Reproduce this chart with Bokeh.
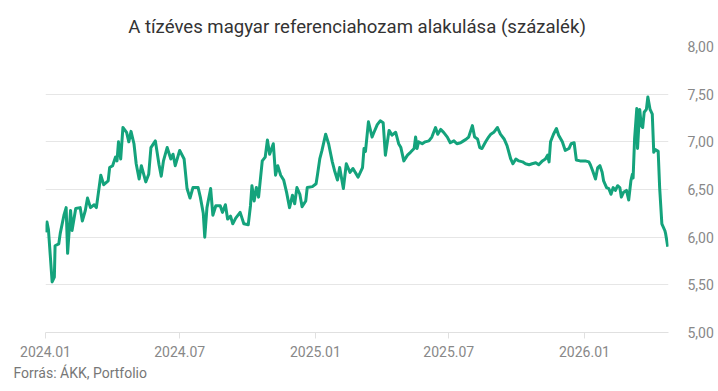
import pandas as pd
from datetime import datetime
from bokeh.plotting import figure
from bokeh.models import (Range1d, FixedTicker, DatetimeTickFormatter,
                          CustomJSTickFormatter, Title)
from bokeh.embed import file_html
from bokeh.resources import INLINE

title_text = "A tízéves magyar referenciahozam alakulása (százalék)"
source_text = "Forrás: ÁKK, Portfolio"

dates = [
    "2024-01-01", "2024-01-03", "2024-01-05", "2024-01-10", "2024-01-13", "2024-01-14",
    "2024-01-19", "2024-01-21", "2024-01-26", "2024-01-29", "2024-01-31", "2024-02-04",
    "2024-02-06", "2024-02-11", "2024-02-17", "2024-02-20", "2024-02-24", "2024-02-27",
    "2024-03-02", "2024-03-07", "2024-03-10", "2024-03-16", "2024-03-20", "2024-03-26",
    "2024-03-28", "2024-04-01", "2024-04-05", "2024-04-07", "2024-04-09", "2024-04-12",
    "2024-04-15", "2024-04-20", "2024-04-23", "2024-04-26", "2024-04-30", "2024-05-03",
    "2024-05-07", "2024-05-10", "2024-05-16", "2024-05-20", "2024-05-23", "2024-05-29",
    "2024-06-03", "2024-06-06", "2024-06-09", "2024-06-14", "2024-06-19", "2024-06-22",
    "2024-06-25", "2024-07-01", "2024-07-07", "2024-07-11", "2024-07-15", "2024-07-19",
    "2024-07-26", "2024-07-29", "2024-08-02", "2024-08-04", "2024-08-07", "2024-08-12",
    "2024-08-15", "2024-08-19", "2024-08-25", "2024-08-28", "2024-09-01", "2024-09-04",
    "2024-09-08", "2024-09-11", "2024-09-15", "2024-09-21", "2024-09-26", "2024-10-02",
    "2024-10-05", "2024-10-07", "2024-10-10", "2024-10-13", "2024-10-16", "2024-10-21",
    "2024-10-25", "2024-10-28", "2024-10-31", "2024-11-05", "2024-11-08", "2024-11-11",
    "2024-11-15", "2024-11-19", "2024-11-23", "2024-11-27", "2024-12-01", "2024-12-04",
    "2024-12-07", "2024-12-11", "2024-12-14", "2024-12-19", "2024-12-21", "2024-12-28",
    "2025-01-02", "2025-01-04", "2025-01-07", "2025-01-10", "2025-01-15", "2025-01-19",
    "2025-01-24", "2025-01-27", "2025-01-31", "2025-02-03", "2025-02-08", "2025-02-12",
    "2025-02-17", "2025-02-21", "2025-02-28", "2025-03-06", "2025-03-08", "2025-03-10",
    "2025-03-14", "2025-03-19", "2025-03-21", "2025-03-26", "2025-03-30", "2025-04-03",
    "2025-04-06", "2025-04-11", "2025-04-15", "2025-04-20", "2025-04-24", "2025-04-27",
    "2025-05-01", "2025-05-06", "2025-05-10", "2025-05-15", "2025-05-17", "2025-05-19",
    "2025-05-21", "2025-05-26", "2025-05-30", "2025-06-04", "2025-06-08", "2025-06-13",
    "2025-06-16", "2025-06-20", "2025-06-24", "2025-06-29", "2025-07-03", "2025-07-08",
    "2025-07-12", "2025-07-17", "2025-07-21", "2025-07-25", "2025-07-28", "2025-08-02",
    "2025-08-05", "2025-08-09", "2025-08-12", "2025-08-15", "2025-08-20", "2025-08-24",
    "2025-08-27", "2025-08-31", "2025-09-05", "2025-09-09", "2025-09-14", "2025-09-18",
    "2025-09-23", "2025-09-26", "2025-09-30", "2025-10-04", "2025-10-09", "2025-10-13",
    "2025-10-18", "2025-10-22", "2025-10-27", "2025-10-31", "2025-11-05", "2025-11-09",
    "2025-11-12", "2025-11-14", "2025-11-16", "2025-11-20", "2025-11-24", "2025-11-27",
    "2025-12-02", "2025-12-06", "2025-12-11", "2025-12-14", "2025-12-18", "2025-12-21",
    "2025-12-26", "2026-01-02", "2026-01-07", "2026-01-09", "2026-01-12", "2026-01-16",
    "2026-01-19", "2026-01-22", "2026-01-25", "2026-01-27", "2026-01-31", "2026-02-03",
    "2026-02-06", "2026-02-09", "2026-02-12", "2026-02-15", "2026-02-18", "2026-02-20",
    "2026-02-23", "2026-02-27", "2026-03-02", "2026-03-05", "2026-03-07", "2026-03-08",
    "2026-03-10", "2026-03-13", "2026-03-14", "2026-03-17", "2026-03-19", "2026-03-21",
    "2026-03-23", "2026-03-26", "2026-03-28", "2026-03-31", "2026-04-03", "2026-04-05",
    "2026-04-07", "2026-04-11", "2026-04-13", "2026-04-16", "2026-04-20", "2026-04-21",
    "2026-04-24",
]

yields = [
    6.05, 6.16, 6.08, 5.53, 5.58, 5.91,
    5.93, 6.04, 6.23, 6.31, 5.83, 6.28,
    6.07, 6.30, 6.31, 6.17, 6.28, 6.41,
    6.31, 6.34, 6.31, 6.65, 6.55, 6.59,
    6.73, 6.75, 6.84, 6.80, 7.00, 6.82,
    7.15, 7.10, 7.00, 7.11, 6.98, 6.77,
    6.61, 6.75, 6.58, 6.66, 6.94, 7.01,
    6.76, 6.64, 6.80, 6.94, 6.82, 6.87,
    6.75, 6.91, 6.82, 6.51, 6.41, 6.52,
    6.52, 6.42, 6.25, 6.00, 6.31, 6.51,
    6.23, 6.33, 6.33, 6.26, 6.34, 6.19,
    6.22, 6.14, 6.20, 6.26, 6.14, 6.13,
    6.33, 6.54, 6.38, 6.52, 6.42, 6.80,
    6.84, 7.02, 6.87, 6.98, 6.65, 6.75,
    6.65, 6.60, 6.47, 6.31, 6.44, 6.35,
    6.52, 6.45, 6.32, 6.38, 6.52, 6.53,
    6.56, 6.66, 6.82, 6.91, 7.08, 6.98,
    6.79, 6.70, 6.60, 6.73, 6.51, 6.77,
    6.68, 6.72, 6.63, 6.73, 6.93, 6.90,
    7.21, 7.05, 7.09, 7.18, 7.22, 7.20,
    6.86, 7.12, 7.07, 7.10, 6.98, 6.94,
    6.80, 6.86, 6.89, 6.93, 7.05, 6.93,
    7.00, 6.98, 7.00, 7.01, 7.05, 7.15,
    7.08, 7.13, 7.10, 7.05, 6.99, 7.01,
    6.98, 6.99, 7.01, 7.03, 7.05, 7.17,
    7.05, 7.03, 6.94, 6.93, 7.00, 7.05,
    7.08, 7.10, 7.15, 7.08, 7.03, 6.96,
    6.82, 6.77, 6.82, 6.80, 6.79, 6.77,
    6.76, 6.77, 6.78, 6.76, 6.80, 6.82,
    6.86, 6.79, 7.00, 7.08, 7.14, 7.07,
    7.00, 6.91, 6.93, 6.98, 6.99, 6.81,
    6.80, 6.80, 6.79, 6.76, 6.70, 6.61,
    6.73, 6.75, 6.68, 6.59, 6.52, 6.51,
    6.45, 6.52, 6.49, 6.54, 6.52, 6.42,
    6.47, 6.49, 6.39, 6.59, 6.66, 6.62,
    7.03, 7.35, 6.93, 7.34, 7.17, 7.15,
    7.31, 7.34, 7.47, 7.34, 7.29, 6.89,
    6.92, 6.90, 6.52, 6.14, 6.07, 6.04,
    5.90,
]

x_tick_dates = ["2024-01-01", "2024-07-01", "2025-01-01", "2025-07-01", "2026-01-01"]
y_ticks = [5.0, 5.5, 6.0, 6.5, 7.0, 7.5, 8.0]

x = pd.to_datetime(dates)

p = figure(width=717, height=390, output_backend="svg", toolbar_location=None,
           x_axis_type="datetime", y_axis_location="right",
           x_range=Range1d(datetime(2024, 1, 1), datetime(2026, 4, 25)),
           y_range=Range1d(5, 8),
           min_border_left=45, min_border_right=49, min_border_top=46, min_border_bottom=58)

p.line(x, yields, line_color="#14a37c", line_width=3, line_join="round")

p.outline_line_color = None
p.background_fill_color = "white"
p.border_fill_color = "white"

# title
p.title.text = title_text
p.title.align = "center"
p.title.text_font = "Roboto"
p.title.text_font_size = "18.6px"
p.title.text_font_style = "normal"
p.title.text_color = "#333333"
p.title.standoff = 18

# x axis
xa = p.xaxis[0]
xa.ticker = FixedTicker(ticks=[pd.Timestamp(d).value / 1e6 for d in x_tick_dates])
xa.formatter = DatetimeTickFormatter(days="%Y.%m", months="%Y.%m", years="%Y.%m")
xa.axis_line_color = "#e0e0e0"
xa.major_tick_line_color = "#e0e0e0"
xa.major_tick_out = 6
xa.major_tick_in = 0
xa.minor_tick_line_color = None
xa.major_label_text_font = "Roboto"
xa.major_label_text_font_size = "14px"
xa.major_label_text_color = "#888888"
xa.major_label_standoff = 7

# y axis (right)
ya = p.yaxis[0]
ya.ticker = FixedTicker(ticks=y_ticks)
ya.formatter = CustomJSTickFormatter(code="return tick.toFixed(2).replace('.', ',');")
ya.axis_line_color = None
ya.major_tick_line_color = None
ya.minor_tick_line_color = None
ya.major_label_text_font = "Roboto"
ya.major_label_text_font_size = "14px"
ya.major_label_text_color = "#888888"
ya.major_label_standoff = 13

p.xgrid.grid_line_color = None
p.ygrid.grid_line_color = "#e6e6e6"
p.ygrid.ticker = FixedTicker(ticks=y_ticks)

src = Title(text=source_text, align="left", offset=-32, text_font="Roboto",
            text_font_size="14px", text_font_style="normal", text_color="#777777",
            standoff=7)
p.add_layout(src, "below")

open("out.html", "w").write(file_html(p, INLINE))
